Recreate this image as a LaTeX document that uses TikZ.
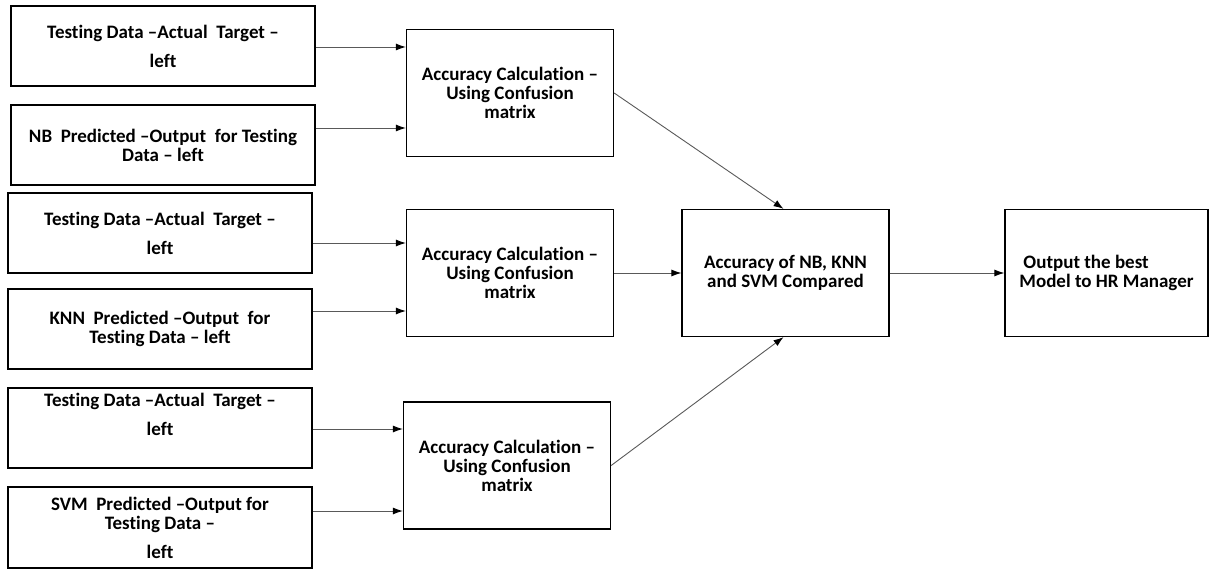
\documentclass[tikz,border=0pt]{standalone}
\usepackage{fontspec}
\setmainfont{Carlito}[Ligatures={TeX,NoCommon}]
\usetikzlibrary{arrows.meta}
\begin{document}
\begin{tikzpicture}[x=1pt, y=-1pt,
  inbox/.style={draw, line width=1.3pt, minimum width=304pt, minimum height=80pt,
    align=center, inner sep=0pt, font=\fontsize{19}{19}\selectfont\bfseries},
  accbox/.style={draw, line width=1.3pt, minimum width=207pt, minimum height=127pt,
    align=center, inner sep=0pt, font=\fontsize{19}{19}\selectfont\bfseries},
  arr/.style={draw=black!65, line width=0.9pt, -{Latex[length=10pt, width=7pt, black]}}]
\useasboundingbox (0,0) rectangle (1209,569);

% Input boxes
\node[inbox] (td1) at (163,46) {Testing Data –Actual\ \ Target –\\[10pt] left};
\node[inbox] (nb) at (163,145) {NB\ \ Predicted –Output\ \ for Testing\\ Data – left};
\node[inbox] (td2) at (160,233) {Testing Data –Actual\ \ Target –\\[10pt] left};
\node[inbox] (knn) at (160,329) {KNN\ \ Predicted –Output\ \ for\\ Testing Data – left};
\node[inbox] (td3) at (160,428) {};
\node[inbox, draw=none, minimum height=0pt] (td3txt) at ([yshift=13.5pt]td3.center) {Testing Data –Actual\ \ Target –\\[10pt] left};
\node[inbox, minimum height=81pt] (svm) at (160,527.5) {SVM\ \ Predicted –Output for\\ Testing Data –\\[10pt] left};

% Accuracy calculation
\node[accbox] (acc1) at (510,93) {Accuracy Calculation –\\ Using Confusion\\ matrix};
\node[accbox] (acc2) at (510,273) {Accuracy Calculation –\\ Using Confusion\\ matrix};
\node[accbox] (acc3) at (507,465.5) {Accuracy Calculation –\\ Using Confusion\\ matrix};

% Comparison and output
\node[accbox] (cmp) at (785.5,273) {Accuracy of NB, KNN\\ and SVM Compared};
\node[accbox, minimum width=203pt, align=left] (out) at (1106.5,273) {\hspace{4pt}Output the best\\Model to HR Manager};

% Arrows
\draw[arr] ([yshift=-1pt]td1.east) -- ([yshift=-1pt]td1.east -| acc1.west);
\draw[arr] ([yshift=17pt]nb.east) -- ([yshift=17pt]nb.east -| acc1.west);
\draw[arr] ([yshift=-10pt]td2.east) -- ([yshift=-10pt]td2.east -| acc2.west);
\draw[arr] ([yshift=18pt]knn.east) -- ([yshift=18pt]knn.east -| acc2.west);
\draw[arr] ([yshift=-1pt]td3.east) -- ([yshift=-1pt]td3.east -| acc3.west);
\draw[arr] ([yshift=16.5pt]svm.east) -- ([yshift=16.5pt]svm.east -| acc3.west);
\draw[arr] (acc1.east) -- ([xshift=-2pt]cmp.north);
\draw[arr] (acc2.east) -- (cmp.west);
\draw[arr] (acc3.east) -- ([xshift=-2pt]cmp.south);
\draw[arr] (cmp.east) -- (out.west);
\end{tikzpicture}
\end{document}
